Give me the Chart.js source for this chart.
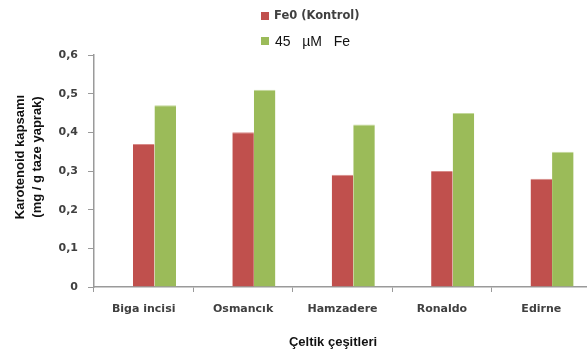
<!DOCTYPE html>
<html lang="tr">
<head>
  <meta charset="UTF-8">
  <title>Karotenoid kapsamı</title>
  <script src="https://cdn.jsdelivr.net/npm/chart.js"></script>
  <style>
    html, body { margin: 0; padding: 0; overflow: hidden; background: #fff; }
    #wrap { position: absolute; left: 0; top: 0; width: 592px; height: 354px; }
  </style>
</head>
<body>
  <div id="wrap"><canvas id="chart" width="592" height="354"></canvas></div>

  <script>
    // values
    const categories = ['Biga incisi', 'Osmancık', 'Hamzadere', 'Ronaldo', 'Edirne'];
    const kontrol = [0.37, 0.40, 0.29, 0.30, 0.28];
    const fe45 = [0.47, 0.51, 0.42, 0.45, 0.35];
    // empty first series: the original keeps a blank slot left of the red bars
    const blank = [null, null, null, null, null];
    const yTickLabels = ['0', '0,1', '0,2', '0,3', '0,4', '0,5', '0,6'];

    const seriesNames = ['Fe0 (Kontrol)', '45   µM   Fe'];
    const red = '#C0504D';
    const green = '#9BBB59';
    const axisGray = '#9A9A9A';
    const labelColor = '#404040';

    // legend and axis titles drawn by hand, the original mixes fonts
    const extras = {
      id: 'extras',
      afterDraw(chart) {
        const ctx = chart.ctx;
        const area = chart.chartArea;
        ctx.save();
        ctx.textBaseline = 'middle';
        ctx.textAlign = 'left';

        ctx.fillStyle = red;
        ctx.fillRect(261, 12, 8, 8);
        ctx.fillStyle = labelColor;
        ctx.font = 'bold 11.5px "DejaVu Sans"';
        ctx.fillText(seriesNames[0], 274, 16);

        ctx.fillStyle = green;
        ctx.fillRect(261, 37, 8, 8);
        ctx.fillStyle = '#111';
        ctx.font = '14px "Liberation Sans"';
        ctx.fillText(seriesNames[1], 275, 42);

        ctx.textAlign = 'center';
        ctx.font = 'bold 13px "Liberation Sans"';
        ctx.fillStyle = '#111';
        ctx.fillText('Çeltik çeşitleri', 333, 342);

        ctx.translate(0, area.top + 102);
        ctx.rotate(-Math.PI / 2);
        ctx.font = 'bold 13px "Liberation Sans"';
        ctx.fillText('Karotenoid kapsamı', 0, 20);
        ctx.fillText('(mg / g taze yaprak)', 0, 37);
        ctx.restore();
      }
    };

    new Chart(document.getElementById('chart'), {
      type: 'bar',
      data: {
        labels: categories,
        datasets: [
          { label: '', data: blank, backgroundColor: 'rgba(0,0,0,0)' },
          { label: seriesNames[0], data: kontrol, backgroundColor: red,
            borderColor: '#D88A88', borderWidth: { top: 1, left: 0, right: 0, bottom: 0 } },
          { label: seriesNames[1], data: fe45, backgroundColor: green,
            borderColor: '#C3D89A', borderWidth: { top: 1, left: 0, right: 0, bottom: 0 } }
        ]
      },
      options: {
        responsive: false,
        animation: false,
        layout: { padding: { top: 55, right: 1, left: 0, bottom: 0 } },
        categoryPercentage: 0.65,
        barPercentage: 1,
        plugins: {
          legend: { display: false },
          tooltip: { enabled: false }
        },
        scales: {
          x: {
            afterFit(scale) { scale.height = 67; },
            grid: {
              drawOnChartArea: false,
              color: axisGray,
              lineWidth: 1,
              tickLength: 5,
              offset: true
            },
            border: { color: axisGray, width: 1.5 },
            ticks: {
              color: labelColor,
              padding: 11,
              font: { family: 'DejaVu Sans', size: 11, weight: 'bold' }
            }
          },
          y: {
            min: 0,
            max: 0.6,
            afterFit(scale) { scale.width = 94; },
            grid: {
              drawOnChartArea: false,
              color: axisGray,
              lineWidth: 1,
              tickLength: 6
            },
            border: { color: axisGray, width: 1.5 },
            ticks: {
              stepSize: 0.1,
              color: labelColor,
              padding: 10,
              font: { family: 'DejaVu Sans', size: 11, weight: 'bold' },
              callback: (value, index) => yTickLabels[index]
            }
          }
        }
      },
      plugins: [extras]
    });
  </script>
</body>
</html>
